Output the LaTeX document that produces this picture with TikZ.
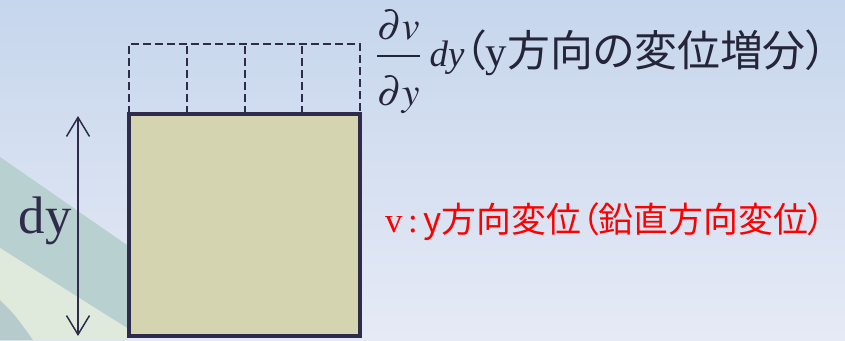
\documentclass[tikz,border=0pt]{standalone}
\usepackage{amsmath}
\usepackage{mathptmx}
\usepackage{fontspec}
\setmainfont{Liberation Serif}
\newfontfamily\jpfont[RawFeature=+palt]{Noto Sans CJK JP}
\usetikzlibrary{arrows.meta,calc}
\definecolor{BgTop}{HTML}{C6D6EC}
\definecolor{BgBottom}{HTML}{E6EAF6}
\definecolor{HillTeal}{HTML}{B9D0D0}
\definecolor{HillPale}{HTML}{E0EADC}
\definecolor{HillDeep}{HTML}{B6CBCB}
\definecolor{EdgeNavy}{HTML}{2E2C4A}
\definecolor{ElemFill}{HTML}{D4D4B0}
\definecolor{TextDark}{HTML}{25253A}
\definecolor{AccentRed}{HTML}{FF0000}

\begin{document}
\begin{tikzpicture}[x=1bp, y=-1bp,
        every node/.style={inner sep=0pt, outer sep=0pt},
        EL/.style={draw=EdgeNavy, fill=ElemFill, line width=4.5bp,
            minimum width=231bp, minimum height=222bp},
        dgrid/.style={draw=EdgeNavy, line width=2bp,
            dash pattern=on 8bp off 4bp},
        dimarr/.style={{Straight Barb[length=19bp,width=23bp]}-{Straight Barb[length=19bp,width=23bp]},
            line width=1.5bp, EdgeNavy},
      ]

      % Background
      \useasboundingbox (0,0) rectangle (845,340);
      \shade[top color=BgTop, bottom color=BgBottom] (0,0) rectangle (845,340);
      \fill[HillTeal] (0,157) -- (127,245) -- (127,340) -- (0,340) -- cycle;
      \fill[HillPale] (0,248) -- (127,328) -- (127,340) -- (0,340) -- cycle;
      \fill[HillDeep] (0,300) .. controls (15,315) .. (33,340) -- (0,340) -- cycle;

      % Element
      \node[EL] (elem) at (244.5,225) {};

      % Dashed increment
      \draw[dgrid] (elem.north west) -- ++(0,-70) -| (elem.north east);
      \foreach \i in {1,2,3}
        \draw[dgrid] ($(elem.north west)!\i/4!(elem.north east)$) -- ++(0,-70);

      % Dimension
      \coordinate (dimT) at (78,116);
      \coordinate (dimB) at (78,336);
      \draw[dimarr] (dimT) -- (dimB);
      \node[font=\fontsize{53}{58}\selectfont, text=EdgeNavy, anchor=base]
        (dylab) at (45,233) {dy};

      % Labels
      \node[anchor=base west, text=TextDark] (incr) at (376,66)
        {{\fontsize{40}{48}\selectfont
          $\dfrac{\partial v\rule[-8bp]{0pt}{0pt}}{\rule{0pt}{44bp}\partial y}$}%
         \hspace{9bp}{\fontsize{37}{42}\selectfont\itshape dy}%
         {\fontsize{43}{46}\selectfont\jpfont （{\rmfamily y}方向の変位増分）}};
      \node[anchor=base west, text=AccentRed, font=\fontsize{35}{40}\selectfont]
        (vdisp) at (385,232) {v\,:\,{\jpfont y方向変位（鉛直方向変位）}};

    \end{tikzpicture}
\end{document}
